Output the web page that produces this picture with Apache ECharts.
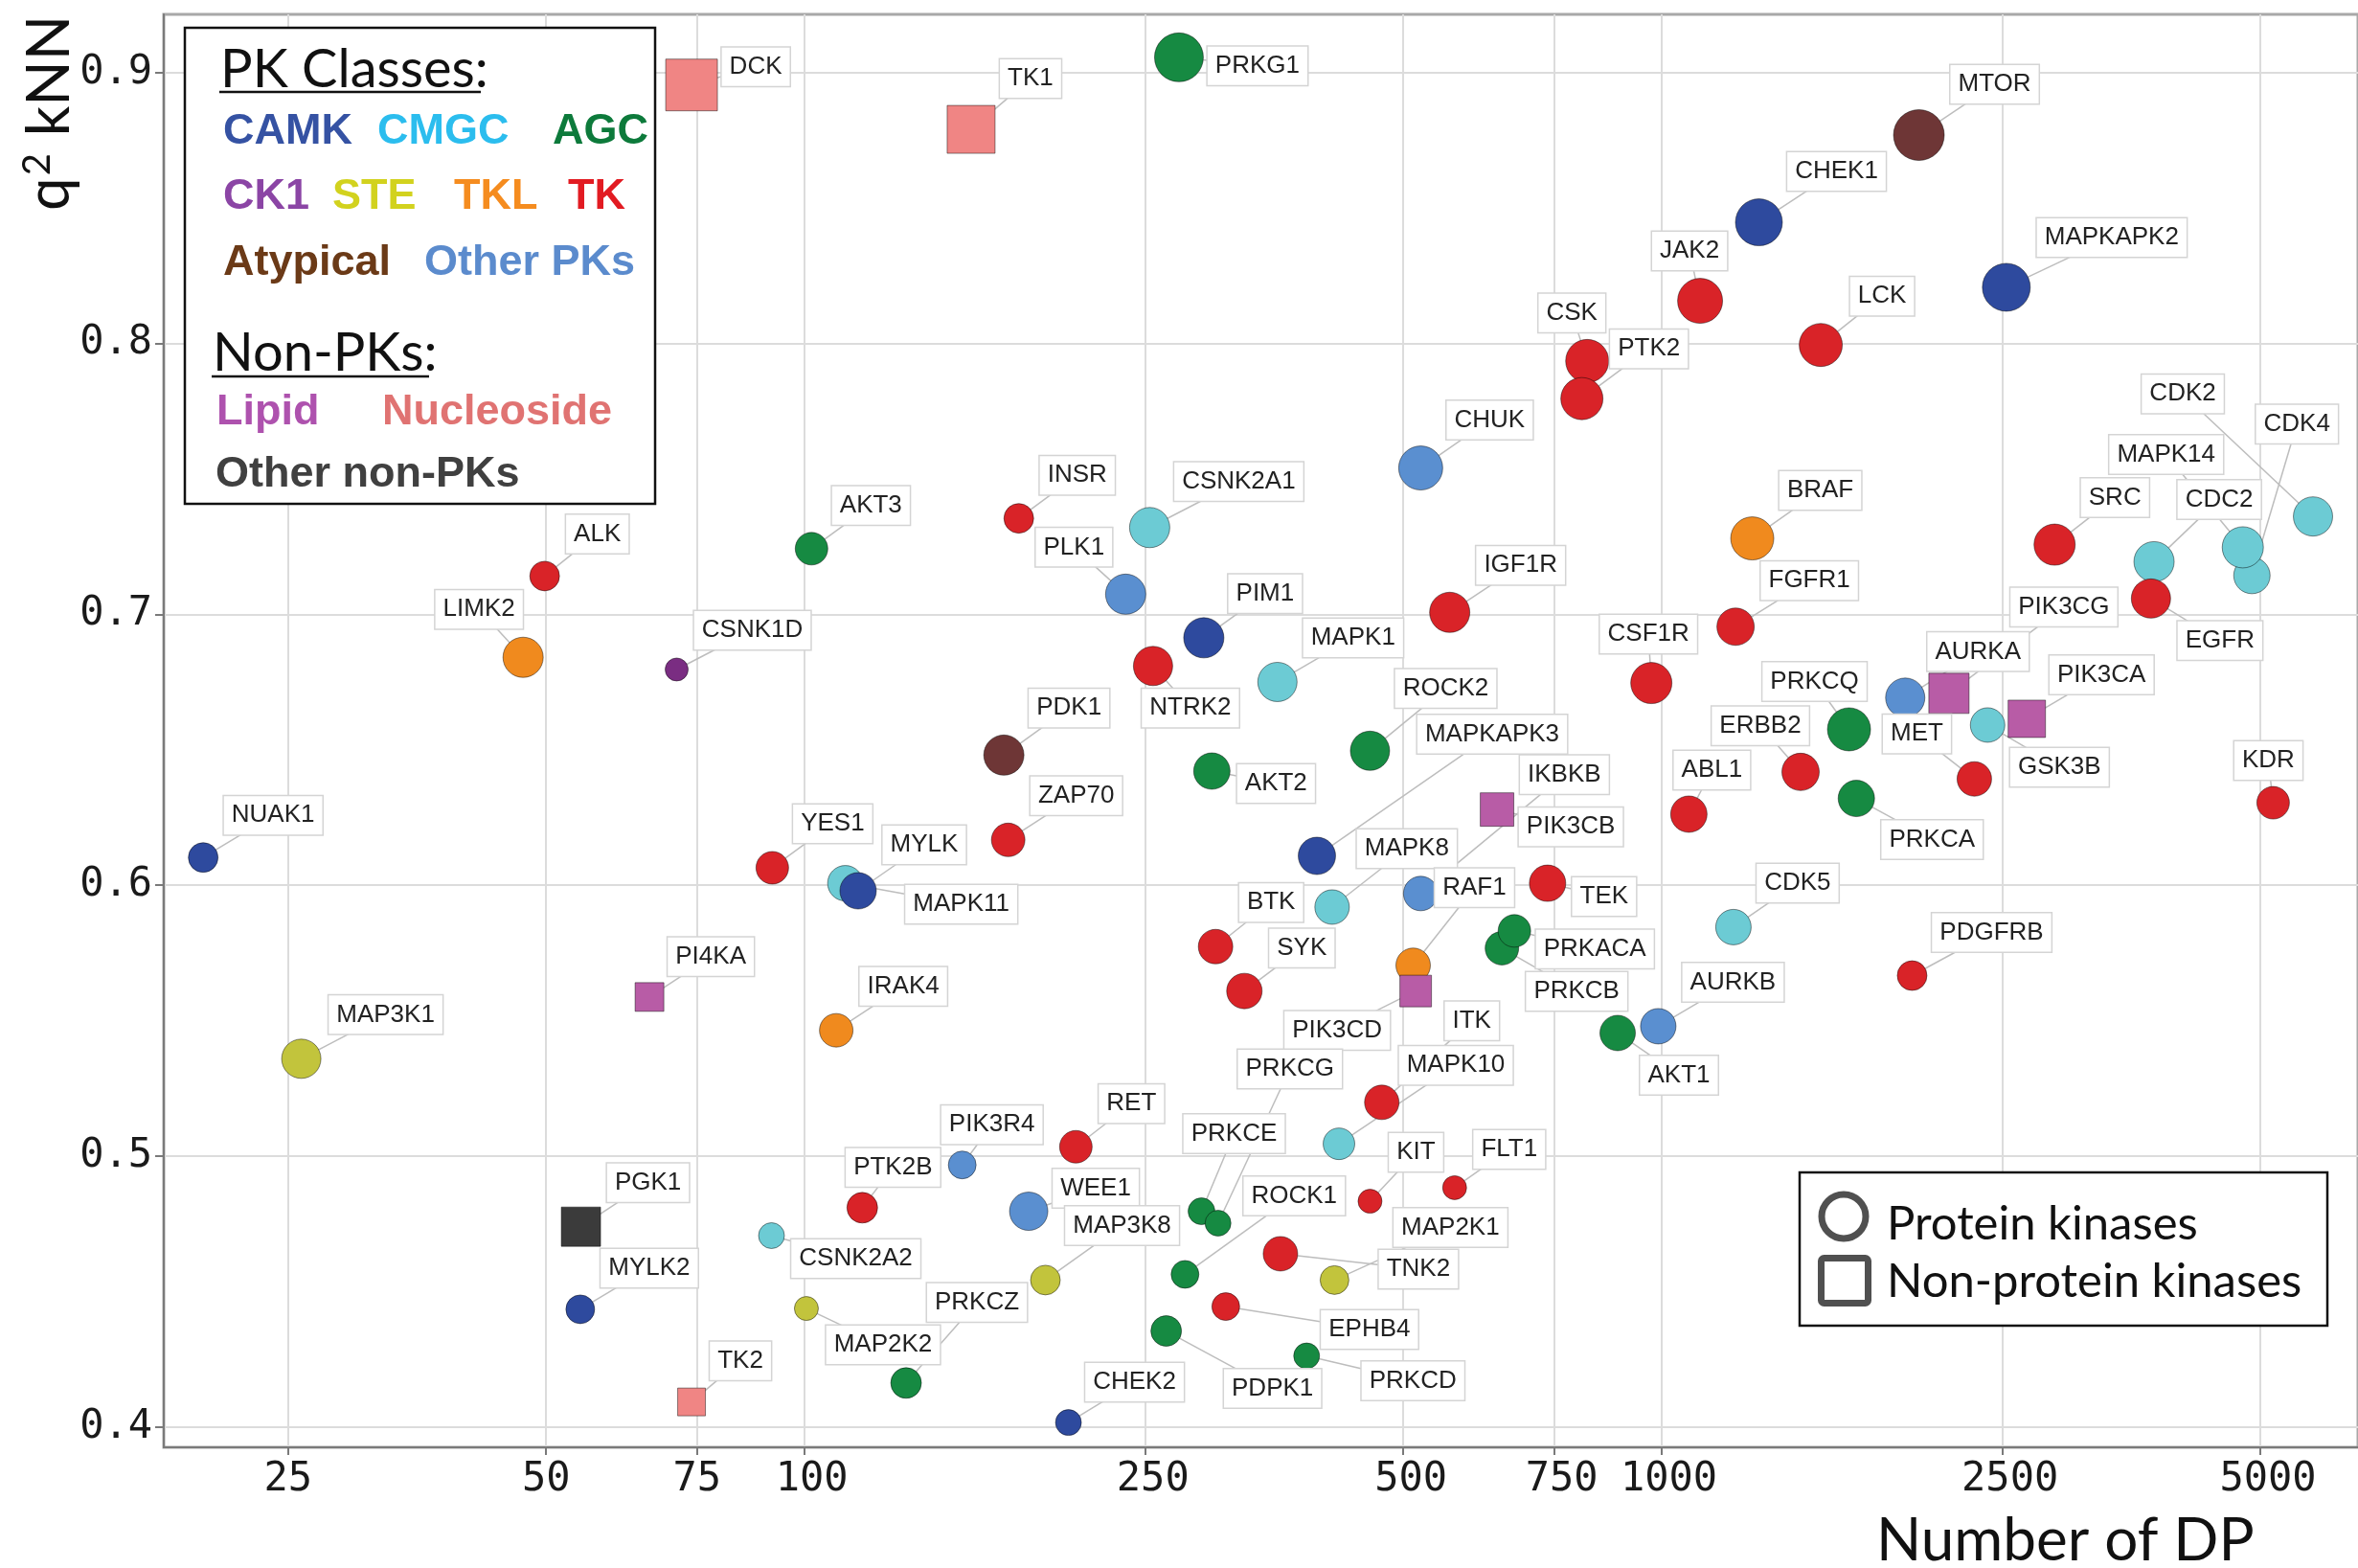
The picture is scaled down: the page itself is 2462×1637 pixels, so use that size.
<!DOCTYPE html>
<html>
<head>
<meta charset="utf-8">
<script src="https://cdn.jsdelivr.net/npm/echarts@6.0.0/dist/echarts.min.js"></script>
<style>
  html, body { margin: 0; padding: 0; background: #ffffff; }
  #chart { width: 2462px; height: 1637px; }
</style>
</head>
<body>
<div id="chart"></div>
<script>
// ---- data: kinase targets, number of data points (DP) and model q2 (kNN) ----
const names = ['DCK','TK1','PRKG1','MTOR','CHEK1','MAPKAPK2','JAK2','LCK','CSK','PTK2','CHUK','BRAF','CDK2','CDK4','MAPK14','CDC2','SRC','EGFR','FGFR1','CSF1R','AURKA','PIK3CG','PIK3CA','GSK3B','PRKCQ','ERBB2','PRKCA','MET','ABL1','KDR','CDK5','PDGFRB','AKT1','AURKB','TEK','PRKCB','PRKACA','IGF1R','ROCK2','MAPKAPK3','MAPK1','AKT2','PIM1','NTRK2','PLK1','CSNK2A1','INSR','AKT3','ALK','LIMK2','CSNK1D','NUAK1','PDK1','ZAP70','YES1','MAPK11','MYLK','PI4KA','MAP3K1','IRAK4','MAPK8','BTK','SYK','IKBKB','PIK3CB','RAF1','PIK3CD','ITK','MAPK10','PGK1','MYLK2','TK2','CSNK2A2','MAP2K2','PRKCZ','PTK2B','PIK3R4','WEE1','RET','MAP3K8','CHEK2','PRKCE','PRKCG','ROCK1','PDPK1','EPHB4','TNK2','MAP2K1','KIT','FLT1','PRKCD'];

const numberOfDP = [73.9,156.6,273.7,1998,1300,2527,1110,1535,819.6,808,524,1277,5760,4888,4770,3758,2877,3727,1221,973.7,1926,2166,2670,2403,1656,1454,1689,2319,1077,5175,1214,1962,889.5,992,736.8,651.8,674,566.5,457.3,396.5,356.6,299,292.6,255.3,237.2,253,178,102,49.8,47,71,19.9,171,173,91.8,111.7,115.6,66,25.9,109,413,302,326.3,524,643.3,513.5,517,472,420.7,54.9,54.8,73.9,91.6,100.6,131.5,116.9,152.9,182.8,207.5,191.2,203.4,290.8,304,278.2,264.5,310.4,359.5,415.7,457.3,574,385.7];

const q2kNN = [0.8954,0.8790,0.9056,0.8769,0.8447,0.8207,0.8157,0.7994,0.7935,0.7796,0.7540,0.7280,0.7361,0.7143,0.7247,0.7194,0.7257,0.7058,0.6954,0.6746,0.6692,0.6708,0.6614,0.6591,0.6575,0.6418,0.6320,0.6392,0.6262,0.6304,0.5845,0.5666,0.5454,0.5479,0.6007,0.5767,0.5831,0.7007,0.6496,0.6108,0.6750,0.6421,0.6913,0.6809,0.7074,0.7320,0.7354,0.7242,0.7141,0.6841,0.6796,0.6102,0.6480,0.6167,0.6064,0.6007,0.5979,0.5587,0.5359,0.5464,0.5919,0.5773,0.5609,0.5969,0.6279,0.5704,0.5609,0.5198,0.5045,0.4739,0.4434,0.4092,0.4706,0.4437,0.4162,0.4809,0.4967,0.4796,0.5034,0.4542,0.4016,0.4796,0.4752,0.4563,0.4354,0.4444,0.4639,0.4542,0.4833,0.4883,0.4262];

const kinaseClass = ['Nucleoside','Nucleoside','AGC','Atypical','CAMK','CAMK','TK','TK','TK','TK','Other','TKL','CMGC','CMGC','CMGC','CMGC','TK','TK','TK','TK','Other','Lipid','Lipid','CMGC','AGC','TK','AGC','TK','TK','TK','CMGC','TK','AGC','Other','TK','AGC','AGC','TK','AGC','CAMK','CMGC','AGC','CAMK','TK','Other','CMGC','TK','AGC','TK','TKL','CK1','CAMK','Atypical','TK','TK','CMGC','CAMK','Lipid','STE','TKL','CMGC','TK','TK','Other','Lipid','TKL','Lipid','TK','CMGC','OtherNonPK','CAMK','Nucleoside','CMGC','STE','AGC','TK','Other','Other','TK','STE','CAMK','AGC','AGC','AGC','AGC','TK','TK','STE','TK','TK','AGC'];

const xTickValues = [25, 50, 75, 100, 250, 500, 750, 1000, 2500, 5000];
const yTickValues = [0.4, 0.5, 0.6, 0.7, 0.8, 0.9];

// ---- presentation: marker diameters (px) and label box offsets from each marker (px) ----
const markerDiameter = [54,50,51,53,49,50,47,45,45,44,46,45,41,38,43,42,43,41,39,43,41,42,39,36,45,39,38,36,38,34,37,31,37,37,38,35,34,42,41,39,41,38,42,41,42,42,31,34,31,42,24,31,42,35,34,37,38,30,41,35,36,36,37,36,35,36,33,36,33,41,30,29,27,25,32,32,29,40,34,31,27,28,27,29,32,29,36,30,25,25,27];

const labelOffset = [[67,-19],[62,-53],[82,9],[79,-53],[81,-53],[110,-52],[-11,-52],[64,-51],[-16,-50],[70,-52],[72,-50],[71,-50],[-136,-128],[47,-158],[-80,-97],[68,-65],[63,-49],[72,44],[77,-48],[-3,-51],[76,-48],[120,-90],[78,-46],[75,44],[-36,-50],[-42,-48],[79,43],[-60,-47],[24,-46],[-5,-44],[67,-46],[83,-45],[64,44],[78,-46],[59,14],[78,45],[84,19],[74,-49],[79,-65],[183,-127],[79,-46],[67,13],[64,-46],[39,44],[-54,-49],[93,-48],[61,-45],[62,-45],[55,-44],[-46,-50],[79,-41],[73,-44],[68,-49],[71,-46],[63,-46],[121,22],[69,-48],[64,-42],[88,-46],[70,-46],[78,-61],[58,-46],[60,-45],[150,-124],[77,18],[64,-81],[-82,41],[94,-85],[122,-82],[70,-46],[72,-43],[51,-43],[88,24],[80,38],[74,-84],[32,-42],[31,-42],[70,-24],[58,-45],[80,-57],[69,-42],[34,-81],[75,-161],[114,-82],[111,60],[150,24],[144,16],[121,-55],[48,-51],[57,-40],[111,26]];

const classColor = {
  CAMK: '#2e4a9e', CMGC: '#6ccbd4', AGC: '#168a42', CK1: '#7a2d82', STE: '#c2c43c',
  TKL: '#f08a1e', TK: '#d92328', Atypical: '#6e3636', Other: '#5a8fd0',
  Lipid: '#b85ca6', Nucleoside: '#f08584', OtherNonPK: '#3b3b3b'
};
const nonProteinKinase = { Lipid: true, Nucleoside: true, OtherNonPK: true };

const pointData = names.map((n, i) => ({
  name: n,
  value: [numberOfDP[i], q2kNN[i]],
  symbol: nonProteinKinase[kinaseClass[i]] ? 'rect' : 'circle',
  symbolSize: markerDiameter[i],
  itemStyle: { color: classColor[kinaseClass[i]] }
}));
const tagData = names.map((n, i) => [numberOfDP[i], q2kNN[i], i]);

function renderLeader(params, api) {
  const i = api.value(2);
  const p = api.coord([api.value(0), api.value(1)]);
  const o = labelOffset[i];
  return {
    type: 'line', silent: true,
    shape: { x1: p[0], y1: p[1], x2: p[0] + o[0], y2: p[1] + o[1] },
    style: { stroke: '#bdbdbd', lineWidth: 1.5 }
  };
}
function renderTag(params, api) {
  const i = api.value(2);
  const p = api.coord([api.value(0), api.value(1)]);
  const o = labelOffset[i];
  return {
    type: 'text', silent: true,
    x: p[0] + o[0], y: p[1] + o[1],
    style: {
      text: names[i], fontFamily: 'Liberation Sans, Arial, sans-serif', fontSize: 26,
      fill: '#222222', align: 'center', verticalAlign: 'middle',
      backgroundColor: '#ffffff', borderColor: '#d4d4d4', borderWidth: 1.5, padding: [7, 8]
    }
  };
}

// ---- legend panels and axis titles ----
const boldLeg = 'bold 45px "Liberation Sans", Arial, sans-serif';
function legText(text, x, y, color, font) {
  return { type: 'text', x: x, y: y, z: 101,
    style: { text: text, fill: color, font: font || boldLeg, align: 'left', verticalAlign: 'middle', textAlign: 'left', textVerticalAlign: 'middle' } };
}
const legendGraphics = [
  { type: 'rect', z: 100, shape: { x: 193, y: 29, width: 491, height: 497 }, style: { fill: '#ffffff', stroke: '#111111', lineWidth: 2.5 } },
  legText('PK Classes:', 230, 73, '#111111', '56px Lato, sans-serif'),
  { type: 'line', z: 101, shape: { x1: 229, y1: 96, x2: 502, y2: 96 }, style: { stroke: '#111111', lineWidth: 2.5 } },
  legText('CAMK', 233, 138, '#3552a3'),
  legText('CMGC', 394, 138, '#2bbdee'),
  legText('AGC', 577, 138, '#0d7a3b'),
  legText('CK1', 233, 206, '#8b45a5'),
  legText('STE', 347, 206, '#d2d21e'),
  legText('TKL', 474, 206, '#f58c1f'),
  legText('TK', 593, 206, '#e21b22'),
  legText('Atypical', 233, 275, '#6b3a17'),
  legText('Other PKs', 443, 275, '#5b8bcd'),
  legText('Non-PKs:', 222, 369, '#111111', '56px Lato, sans-serif'),
  { type: 'line', z: 101, shape: { x1: 221, y1: 393, x2: 448, y2: 393 }, style: { stroke: '#111111', lineWidth: 2.5 } },
  legText('Lipid', 226, 431, '#ae52ae'),
  legText('Nucleoside', 399, 431, '#e07372'),
  legText('Other non-PKs', 225, 496, '#404040'),

  { type: 'rect', z: 100, shape: { x: 1879, y: 1224, width: 551, height: 160 }, style: { fill: '#ffffff', stroke: '#111111', lineWidth: 2.5 } },
  { type: 'circle', z: 101, shape: { cx: 1925, cy: 1270, r: 23 }, style: { fill: 'none', stroke: '#505050', lineWidth: 7 } },
  { type: 'rect', z: 101, shape: { x: 1901.5, y: 1313.5, width: 49, height: 47, r: 3 }, style: { fill: 'none', stroke: '#505050', lineWidth: 7 } },
  legText('Protein kinases', 1970, 1278, '#111111', '49px Lato, sans-serif'),
  legText('Non-protein kinases', 1970, 1338, '#111111', '49px Lato, sans-serif'),

  { type: 'text', x: 1959, y: 1609, z: 101,
    style: { text: 'Number of DP', fill: '#111111', font: '62px Lato, sans-serif', align: 'left', verticalAlign: 'middle', textAlign: 'left', textVerticalAlign: 'middle' } },
  { type: 'text', x: 52, y: 118, rotation: Math.PI / 2, z: 101,
    style: {
      text: '{a|q}{s|2}{a| kNN}', align: 'center', verticalAlign: 'middle', textAlign: 'center', textVerticalAlign: 'middle',
      rich: {
        a: { fontFamily: 'Lato, sans-serif', fontSize: 62, fill: '#111111', lineHeight: 66 },
        s: { fontFamily: 'Lato, sans-serif', fontSize: 40, fill: '#111111', verticalAlign: 'top', lineHeight: 66, padding: [0, 2, 18, 2] }
      }
    } }
];

const tickFont = { fontFamily: 'DejaVu Sans Mono', fontSize: 42, color: '#1a1a1a' };

const chart = echarts.init(document.getElementById('chart'), null, { renderer: 'canvas', width: 2462, height: 1637 });
chart.setOption({
  animation: false,
  backgroundColor: '#ffffff',
  grid: { left: 171, right: 0, top: 15, bottom: 126, show: true, borderColor: '#a8a8a8', borderWidth: 3, backgroundColor: 'transparent' },
  xAxis: {
    type: 'log', logBase: 10, min: 17.9, max: 6500,
    axisLine: { show: true, onZero: false, lineStyle: { color: '#7a7a7a', width: 2 } },
    axisTick: { show: true, customValues: xTickValues, length: 8, lineStyle: { color: '#7a7a7a', width: 2 } },
    axisLabel: Object.assign({
      customValues: xTickValues, margin: 13,
      formatter: v => { const s = String(Math.round(v)); return s.length > 2 ? '{w|' + s + '}' : s; },
      rich: { w: Object.assign({ padding: [0, 0, 0, 16] }, tickFont) }
    }, tickFont),
    splitLine: { show: true, lineStyle: { color: '#dcdcdc', width: 2 } },
    minorSplitLine: { show: false }
  },
  yAxis: {
    type: 'value', min: 0.39245, max: 0.92146,
    axisLine: { show: true, onZero: false, lineStyle: { color: '#7a7a7a', width: 2 } },
    axisTick: { show: true, customValues: yTickValues, length: 9, lineStyle: { color: '#7a7a7a', width: 2 } },
    axisLabel: Object.assign({ customValues: yTickValues, formatter: v => v.toFixed(1), margin: 12 }, tickFont),
    splitLine: { show: true, lineStyle: { color: '#dcdcdc', width: 2 } }
  },
  series: [
    { type: 'custom', name: 'leaders', z: 1, renderItem: renderLeader, data: tagData, encode: { x: 0, y: 1 }, silent: true },
    { type: 'scatter', name: 'targets', z: 2, data: pointData,
      itemStyle: { borderColor: 'rgba(0,0,0,0.45)', borderWidth: 1, opacity: 1 } },
    { type: 'custom', name: 'tags', z: 3, renderItem: renderTag, data: tagData, encode: { x: 0, y: 1 }, silent: true }
  ],
  graphic: legendGraphics
});
</script>
</body>
</html>
